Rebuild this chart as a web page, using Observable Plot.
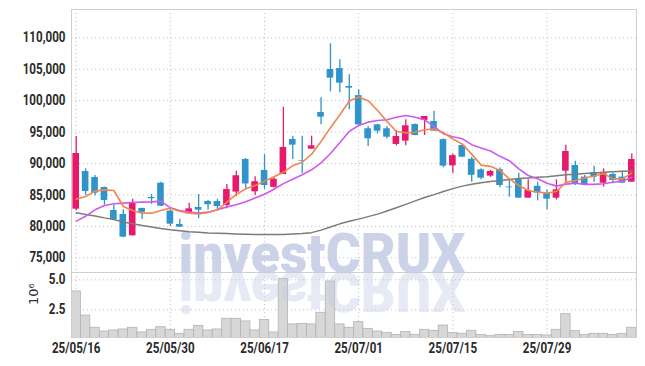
<!DOCTYPE html>
<html>
<head>
<meta charset="utf-8">
<script src="https://cdn.jsdelivr.net/npm/d3@7"></script>
<script src="https://cdn.jsdelivr.net/npm/@observablehq/plot@0.6"></script>
<style>
  html, body { margin: 0; padding: 0; background: #fff; }
  #chart { position: relative; width: 645px; height: 366px; }
  #chart svg { display: block; }
</style>
</head>
<body>
<div id="chart"></div>
<script>
const dates = ["25/05/16","25/05/19","25/05/20","25/05/21","25/05/22","25/05/23","25/05/26","25/05/27","25/05/28","25/05/29",
  "25/05/30","25/06/02","25/06/04","25/06/05","25/06/09","25/06/10","25/06/11","25/06/12","25/06/13","25/06/16",
  "25/06/17","25/06/18","25/06/19","25/06/20","25/06/23","25/06/24","25/06/25","25/06/26","25/06/27","25/06/30",
  "25/07/01","25/07/02","25/07/03","25/07/04","25/07/07","25/07/08","25/07/09","25/07/10","25/07/11","25/07/14",
  "25/07/15","25/07/16","25/07/17","25/07/18","25/07/21","25/07/22","25/07/23","25/07/24","25/07/25","25/07/28",
  "25/07/29","25/07/30","25/07/31","25/08/01","25/08/04","25/08/05","25/08/06","25/08/07","25/08/08","25/08/11"];

const open = [82730,88730,87770,86180,82520,81890,78490,82850,84600,86870,
  82420,80300,82000,83000,83950,83950,83320,85450,90640,85500,
  88900,86200,88250,93820,90480,92280,98120,104950,105100,102250,
  100800,95520,96150,95520,93030,93560,96200,96840,96680,93800,
  89630,92870,90670,88990,87990,89020,86250,87560,84490,86370,
  85200,84490,88780,89680,87830,88570,86870,88250,87830,87030];
const high = [94300,89150,88090,86250,83370,82630,84330,82900,85070,87030,
  82630,81150,83690,85070,84100,84300,86660,88780,90800,87900,
  91400,87700,98960,94350,94350,94350,100450,109040,106500,104100,
  101720,95900,96250,95890,95250,96950,96300,97480,98300,93900,
  91500,93100,91000,89150,88900,89300,87300,88460,87400,87030,
  85800,87400,92900,90370,88100,89580,89150,88460,88780,91540];
const low = [82500,84910,84860,83370,81090,78180,78490,81090,83500,83150,
  79980,79800,81990,81200,82550,82500,82790,84700,85800,84900,
  85900,86100,88250,90640,88400,92280,96150,101400,101250,98540,
  95890,92700,94720,93900,92800,92810,94400,94460,95150,89310,
  88460,90900,87030,87400,87800,86130,84650,84490,84490,84050,
  82630,84200,86800,86500,86500,87030,86240,86770,86870,87030];
const close = [91590,85550,85280,84120,81090,78280,83800,82230,84400,83210,
  80350,79870,82790,82580,83450,83150,85860,88050,86750,87100,
  86500,87500,92550,92920,90380,92810,97370,103580,102780,101990,
  96150,93930,95150,94190,94300,96000,94460,97480,95150,89580,
  91250,91010,88120,87670,88730,86500,86130,84490,85710,85300,
  84330,85810,91910,86770,86660,87830,88460,87300,86870,90640];
const maShort = [84330,84750,85600,85810,85710,83160,82520,82100,82100,82520,
  82900,82420,82100,81990,82210,82630,83850,85070,85970,86500,
  87200,87900,88600,89650,90200,91480,93500,95700,97750,99950,
  100580,100000,98430,96700,95100,94880,94980,95380,95500,94900,
  93900,93080,91490,89740,89550,88900,87560,86500,85710,85440,
  85300,85550,87000,87300,87700,88000,88420,87560,87560,88460];
const maMid = [80830,81620,82630,83320,83590,83690,83800,83850,83900,84010,
  82950,82520,82260,82100,82260,82630,83100,83450,83900,84500,
  85100,85900,86800,87500,88200,89000,90100,91600,93350,95100,
  96050,96580,96840,96950,97370,97640,97370,96950,95900,94720,
  94270,93930,93000,92470,92000,91140,90450,89150,88090,87560,
  86870,86400,86720,86850,86680,86680,86780,87020,87190,87820];
const maLong = [82150,81900,81650,81350,81100,80700,80400,80150,79900,79650,
  79450,79300,79150,79050,78950,78900,78850,78800,78750,78720,
  78700,78700,78720,78780,78850,79000,79400,79900,80400,80800,
  81150,81550,81950,82450,82950,83500,84050,84600,85050,85550,
  86000,86400,86700,86950,87150,87300,87450,87600,87700,87800,
  87900,88050,88200,88300,88400,88500,88600,88700,88750,88800];
const volume = [4.03,2.02,1.00,0.69,0.78,0.86,1.00,0.61,0.83,1.05,
  0.83,0.50,0.83,1.16,0.78,0.86,1.75,1.75,1.53,0.78,
  1.66,0.61,5.08,1.28,1.33,1.28,2.25,4.86,1.28,1.00,
  1.47,0.91,0.69,0.58,0.41,0.64,0.41,0.83,0.75,1.19,
  0.58,0.50,0.75,0.41,0.30,0.41,0.41,0.66,0.41,0.41,
  0.36,0.83,2.16,0.72,0.41,0.50,0.50,0.41,0.50,1.00];

const priceTicks = [75000,80000,85000,90000,95000,100000,105000,110000];
const volumeTicks = [2.5,5.0];
const dateTicks = ["25/05/16","25/05/30","25/06/17","25/07/01","25/07/15","25/07/29"];
const watermark = "investCRUX";
const volumeUnit = "10⁶";

const rows = dates.map((d, i) => ({
  date: d, open: open[i], high: high[i], low: low[i], close: close[i],
  maShort: maShort[i], maMid: maMid[i], maLong: maLong[i], volume: volume[i]
}));

const UP = "#e8196b", DOWN = "#2e94c9";
const candleColor = d => d.close >= d.open ? UP : DOWN;
const FONT = "Roboto, 'Liberation Sans', sans-serif";
const gridStyle = {stroke: "#c2c5d8", strokeOpacity: 1, strokeDasharray: "1.2,2.8", strokeWidth: 1};
const tickText = {fontWeight: "bold", fontSize: 14.5, fill: "#2a2a2a"};
const xScale = {type: "band", domain: dates, padding: 0, round: false, axis: null};

const pricePlot = Plot.plot({
  width: 645, height: 272,
  marginLeft: 71, marginRight: 9, marginTop: 9, marginBottom: 0,
  style: {fontFamily: FONT, fontSize: "14px", color: "#2a2a2a", background: "transparent"},
  x: xScale,
  y: {domain: [72660, 114500], axis: null},
  marks: [
    Plot.gridY(priceTicks, gridStyle),
    Plot.gridX(dateTicks, gridStyle),
    Plot.axisY(priceTicks, {tickSize: 0, tickPadding: 6, tickFormat: d3.format(","), label: null, ...tickText}),
    Plot.text([watermark], {frameAnchor: "bottom", textAnchor: "start", lineAnchor: "bottom", dx: 178 - 353.5,
      fontFamily: "Roboto, 'Liberation Sans', sans-serif", fontWeight: 900, fontSize: 56,
      fill: "#c3cae3", fillOpacity: 0.85}),
    Plot.ruleX(rows, {x: "date", y1: "low", y2: "high", stroke: candleColor, strokeWidth: 1.3}),
    Plot.barY(rows, {x: "date", y1: "open", y2: "close", fill: candleColor, insetLeft: 1.4, insetRight: 1.4}),
    Plot.line(rows, {x: "date", y: "maLong", stroke: "#7b7b7b", strokeWidth: 1.5}),
    Plot.line(rows, {x: "date", y: "maMid", stroke: "#cf59ef", strokeWidth: 1.6}),
    Plot.line(rows, {x: "date", y: "maShort", stroke: "#f0874c", strokeWidth: 1.6}),
    Plot.frame({stroke: "#cfcfcf"})
  ]
});

const volumePlot = Plot.plot({
  width: 645, height: 94,
  marginLeft: 71, marginRight: 9, marginTop: 0, marginBottom: 29,
  style: {fontFamily: FONT, fontSize: "14px", color: "#2a2a2a", background: "transparent"},
  x: xScale,
  y: {domain: [0.19, 5.61], axis: null},
  marks: [
    Plot.gridY(volumeTicks, gridStyle),
    Plot.gridX(dateTicks, gridStyle),
    Plot.barY(rows, {x: "date", y: "volume", fill: "#d7d7d7", stroke: "#b3b3b3", strokeWidth: 0.8, clip: true}),
    Plot.axisY(volumeTicks, {tickSize: 0, tickPadding: 6, tickFormat: d3.format(".1f"), label: null, ...tickText}),
    Plot.axisX(dateTicks, {tickSize: 0, tickPadding: 5, label: null, ...tickText}),
    Plot.text([volumeUnit], {frameAnchor: "left", dx: -38, rotate: -90, fontSize: 13, fontFamily: "'DejaVu Sans', sans-serif", fill: "#333"}),
    Plot.frame({stroke: "#cfcfcf"})
  ]
});

const chart = document.getElementById("chart");
chart.appendChild(pricePlot);
chart.appendChild(volumePlot);

// condense the tick labels horizontally (narrow face as in the reference)
function condense(svg) {
  svg.querySelectorAll("g[aria-label='y-axis tick label'] text, g[aria-label='x-axis tick label'] text").forEach(t => {
    const tr = t.getAttribute("transform") || "";
    t.setAttribute("transform", tr + " scale(0.8,1)");
  });
}
condense(pricePlot);
condense(volumePlot);

// stretch watermark to its width and add mirrored reflection below the divider
const wm = Array.from(pricePlot.querySelectorAll("text")).find(t => t.textContent === watermark);
if (wm) {
  wm.setAttribute("textLength", 287);
  wm.setAttribute("lengthAdjust", "spacingAndGlyphs");
  const g = wm.parentNode.cloneNode(true);
  const wrap = document.createElementNS("http://www.w3.org/2000/svg", "g");
  wrap.setAttribute("transform", "translate(0,272) scale(1,-1)");
  wrap.setAttribute("opacity", "0.45");
  wrap.appendChild(g);
  volumePlot.appendChild(wrap);
}
</script>
</body>
</html>
